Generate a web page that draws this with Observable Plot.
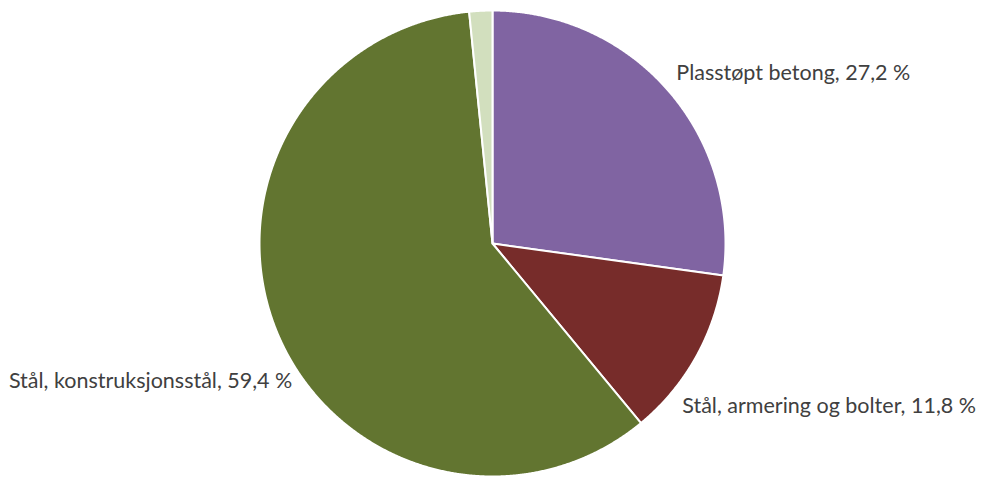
<!DOCTYPE html>
<html>
<head>
<meta charset="utf-8">
<script src="https://cdn.jsdelivr.net/npm/d3@7"></script>
<script src="https://cdn.jsdelivr.net/npm/@observablehq/plot@0.6"></script>
<style>
  html, body { margin: 0; padding: 0; background: #ffffff; }
  #chart { width: 982px; height: 477px; }
</style>
</head>
<body>
<div id="chart"></div>
<script>
// ---- data ----
const categories = ["Plasstøpt betong", "Stål, armering og bolter", "Stål, konstruksjonsstål", "Annet"];
const values = [27.2, 11.8, 59.4, 1.6];
const labelTexts = ["Plasstøpt betong, 27,2 %", "Stål, armering og bolter, 11,8 %", "Stål, konstruksjonsstål, 59,4 %", ""];
const colors = ["#8064A2", "#772C2A", "#627530", "#D2DFBE"];

// ---- build slice polygons (unit circle, y up) ----
const rows = categories.map((c, i) => ({cat: c, value: values[i], label: labelTexts[i]}));
const arcs = d3.pie().sort(null).value(d => d.value)(rows);
const poly = [];
for (const a of arcs) {
  poly.push({cat: a.data.cat, x: 0, y: 0});
  const n = Math.max(2, Math.ceil((a.endAngle - a.startAngle) / (Math.PI / 720)));
  for (let k = 0; k <= n; k++) {
    const t = a.startAngle + (a.endAngle - a.startAngle) * k / n;
    poly.push({cat: a.data.cat, x: Math.sin(t), y: Math.cos(t)});
  }
  poly.push({cat: a.data.cat, x: 0, y: 0});
}
const lab = arcs.filter(a => a.data.label).map(a => {
  const m = (a.startAngle + a.endAngle) / 2;
  return {text: a.data.label, x: 1.08 * Math.sin(m), y: 1.08 * Math.cos(m)};
});

const W = 982, H = 477, cx = 492, cy = 243, R = 233;
const font = "Lato, sans-serif";
const fs = 21.5;

const plot = Plot.plot({
  width: W,
  height: H,
  margin: 0,
  style: {background: "#ffffff", fontFamily: font},
  x: {domain: [-cx / R, (W - cx) / R], axis: null},
  y: {domain: [-(H - cy) / R, cy / R], axis: null},
  color: {domain: categories, range: colors},
  marks: [
    Plot.line(poly, {x: "x", y: "y", z: "cat", fill: "cat", stroke: "#ffffff", strokeWidth: 2, strokeLinejoin: "round", curve: "linear"}),
    Plot.text(lab.slice(0, 1), {x: "x", y: "y", text: "text", textAnchor: "start", fontSize: fs, fill: "#404040", dx: -6, dy: -5}),
    Plot.text(lab.slice(1, 2), {x: "x", y: "y", text: "text", textAnchor: "start", fontSize: fs, fill: "#404040", dx: -30, dy: 40}),
    Plot.text(lab.slice(2, 3), {x: "x", y: "y", text: "text", textAnchor: "end", fontSize: fs, fill: "#404040", dx: 32, dy: 41})
  ]
});
document.getElementById("chart").appendChild(plot);
</script>
</body>
</html>
